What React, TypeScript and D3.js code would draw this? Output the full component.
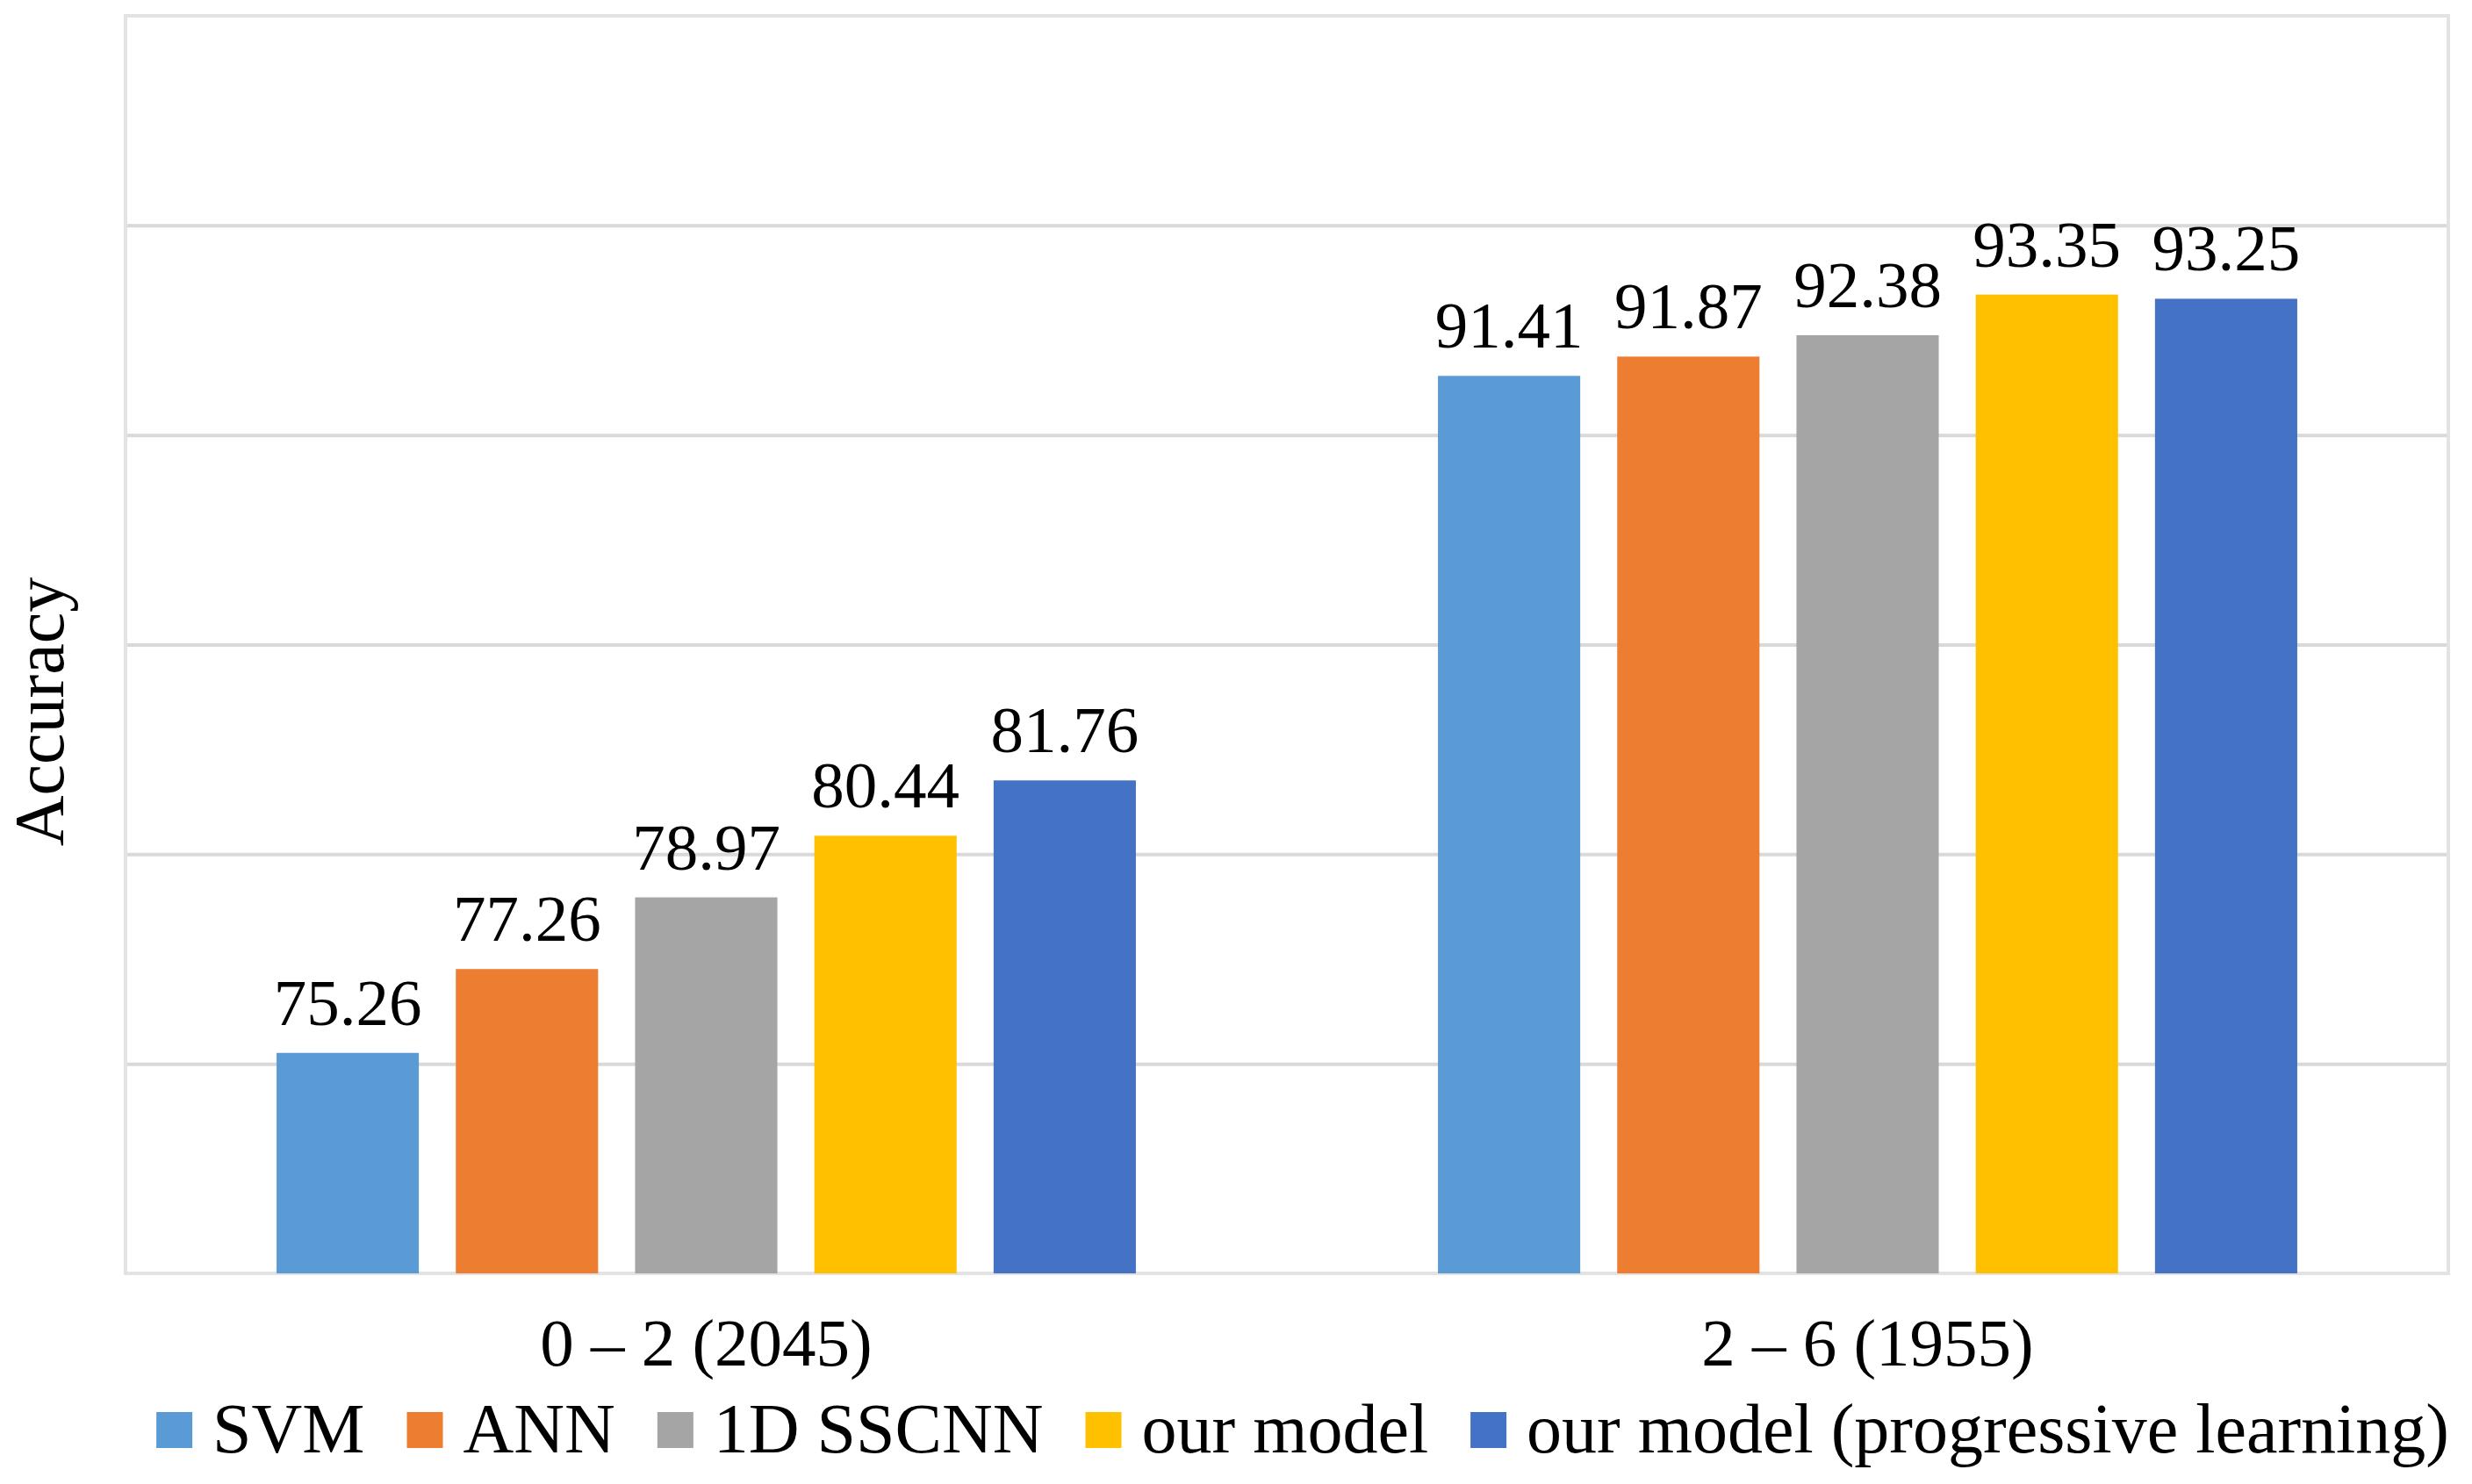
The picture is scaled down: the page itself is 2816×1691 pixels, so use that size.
import * as d3 from 'd3';
import { useEffect, useRef } from 'react';

const categories = ['0 – 2 (2045)', '2 – 6 (1955)'];
const seriesNames = ['SVM', 'ANN', '1D SSCNN', 'our model', 'our model (progressive learning)'];
const seriesColors = ['#5B9BD5', '#ED7D31', '#A5A5A5', '#FFC000', '#4472C4'];
const svmValues = [75.26, 91.41];
const annValues = [77.26, 91.87];
const sscnnValues = [78.97, 92.38];
const ourValues = [80.44, 93.35];
const progressiveValues = [81.76, 93.25];
const yTicks = [70, 75, 80, 85, 90, 95, 100];

const W = 2816;
const H = 1691;
const FONT = '"Liberation Serif", "Times New Roman", serif';

export default function App() {
  const ref = useRef<SVGSVGElement>(null);

  useEffect(() => {
    if (!ref.current) return;
    document.body.style.margin = '0';
    const margin = { top: 18, right: 27, bottom: 240, left: 143 };
    const width = W - margin.left - margin.right;
    const height = H - margin.top - margin.bottom;

    const root = d3.select(ref.current);
    root.selectAll('*').remove();
    const svg = root.append('g').attr('transform', `translate(${margin.left},${margin.top})`);

    const allSeries = [svmValues, annValues, sscnnValues, ourValues, progressiveValues];

    const x0 = d3.scaleBand<string>().domain(categories).range([0, width]);
    // bars of 162 with 42 gap inside each 1323 band
    const barW = x0.bandwidth() * 0.1225;
    const gap = barW * 0.26;
    const groupW = barW * 5 + gap * 4;
    const y = d3.scaleLinear().domain([70, 100]).range([height, 0]);

    // gridlines
    svg
      .append('g')
      .call(
        d3
          .axisLeft(y)
          .tickValues(yTicks.filter((t) => t > 70 && t < 100))
          .tickSize(-width)
          .tickFormat(() => ''),
      )
      .call((g) => g.select('.domain').remove())
      .call((g) => g.selectAll('line').attr('stroke', '#d9d9d9').attr('stroke-width', 4));

    // plot border
    svg
      .append('rect')
      .attr('x', 0)
      .attr('y', 0)
      .attr('width', width)
      .attr('height', height)
      .attr('fill', 'none')
      .attr('stroke', '#e3e3e3')
      .attr('stroke-width', 4);

    // bars + labels
    categories.forEach((cat, ci) => {
      const start = (x0(cat) ?? 0) + (x0.bandwidth() - groupW) / 2;
      allSeries.forEach((vals, si) => {
        const bx = start + si * (barW + gap);
        const v = vals[ci];
        svg
          .append('rect')
          .attr('x', bx)
          .attr('y', y(v))
          .attr('width', barW)
          .attr('height', y(70) - y(v))
          .attr('fill', seriesColors[si]);
        svg
          .append('text')
          .text(v.toFixed(2))
          .attr('x', bx + barW / 2)
          .attr('y', y(v) - 32)
          .attr('text-anchor', 'middle')
          .attr('font-family', FONT)
          .attr('font-size', 75)
          .attr('fill', '#000');
      });
      svg
        .append('text')
        .text(cat)
        .attr('x', (x0(cat) ?? 0) + x0.bandwidth() / 2)
        .attr('y', height + 105)
        .attr('text-anchor', 'middle')
        .attr('font-family', FONT)
        .attr('font-size', 77)
        .attr('fill', '#000');
    });

    // y title
    root
      .append('text')
      .text('Accuracy')
      .attr('transform', `translate(72, 811) rotate(-90)`)
      .attr('text-anchor', 'middle')
      .attr('font-family', FONT)
      .attr('font-size', 80)
      .attr('fill', '#000');

    // legend
    const legend = root.append('g');
    const sw = 41;
    const textGap = 23;
    const itemGap = 48;
    let cx = 0;
    seriesNames.forEach((name, i) => {
      const item = legend.append('g').attr('transform', `translate(${cx},0)`);
      item.append('rect').attr('x', 0).attr('y', -46).attr('width', sw).attr('height', sw).attr('fill', seriesColors[i]);
      const t = item
        .append('text')
        .text(name)
        .attr('x', sw + textGap)
        .attr('y', 0)
        .attr('font-family', FONT)
        .attr('font-size', 80)
        .attr('fill', '#000');
      const tw = (t.node() as SVGTextElement).getComputedTextLength();
      cx += sw + textGap + tw + itemGap;
    });
    const total = cx - itemGap;
    legend.attr('transform', `translate(${1484 - total / 2},1655)`);
  }, []);

  return <svg ref={ref} width={W} height={H} style={{ display: 'block', background: '#fff' }} />;
}
